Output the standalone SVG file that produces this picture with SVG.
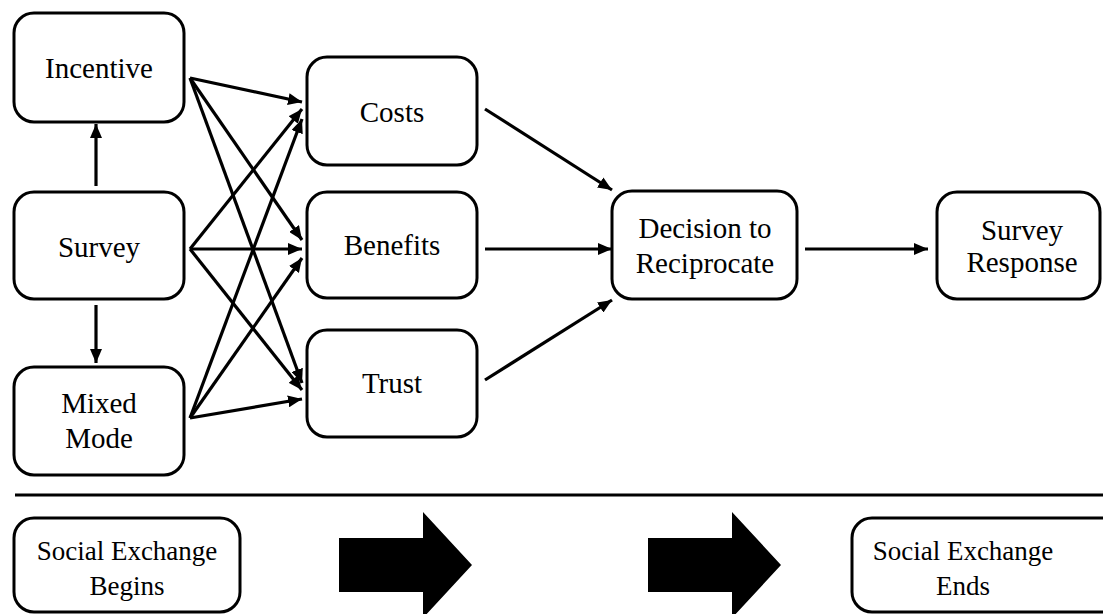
<svg xmlns="http://www.w3.org/2000/svg" width="1103" height="614" viewBox="0 0 1103 614">
<style>
.box{fill:#fff;stroke:#000;stroke-width:3}
.t{font-family:'Liberation Serif','Times New Roman',serif;font-size:29px;fill:#000;text-anchor:middle}
.s{font-size:27px}
.c{stroke:#000;stroke-width:3.2;fill:none;marker-end:url(#ah)}
.big{fill:#000}
</style>
<defs>
<marker id="ah" markerUnits="userSpaceOnUse" markerWidth="14" markerHeight="12" refX="14" refY="6" orient="auto" viewBox="0 0 14 12">
<path d="M0,0 L14,6 L0,12 z" fill="#000"/>
</marker>
</defs>
<rect width="1103" height="614" fill="#fff"/>
<g id="connectors">
<line class="c" x1="96" y1="186" x2="96" y2="124"/>
<line class="c" x1="96" y1="305" x2="96" y2="363"/>
<line class="c" x1="190" y1="78" x2="302" y2="102"/>
<line class="c" x1="190" y1="78" x2="302" y2="240"/>
<line class="c" x1="190" y1="78" x2="302" y2="383"/>
<line class="c" x1="190" y1="249" x2="302" y2="109"/>
<line class="c" x1="190" y1="249" x2="302" y2="249"/>
<line class="c" x1="190" y1="249" x2="302" y2="390"/>
<line class="c" x1="190" y1="418" x2="302" y2="119"/>
<line class="c" x1="190" y1="418" x2="302" y2="258"/>
<line class="c" x1="190" y1="418" x2="302" y2="399"/>
<line class="c" x1="485" y1="109" x2="612" y2="190"/>
<line class="c" x1="485" y1="249" x2="612" y2="249"/>
<line class="c" x1="485" y1="380" x2="612" y2="300"/>
<line class="c" x1="805" y1="249" x2="928" y2="249"/>
</g>
<g id="incentive"><rect class="box" x="14" y="13" width="170" height="109" rx="20"/><text class="t" x="99" y="78">Incentive</text></g>
<g id="survey"><rect class="box" x="14" y="192" width="170" height="107" rx="20"/><text class="t" x="99" y="257">Survey</text></g>
<g id="mixed-mode"><rect class="box" x="14" y="367" width="170" height="108" rx="20"/><text class="t" x="99" y="413">Mixed</text><text class="t" x="99" y="448">Mode</text></g>
<g id="costs"><rect class="box" x="307" y="57" width="170" height="108" rx="20"/><text class="t" x="392" y="122">Costs</text></g>
<g id="benefits"><rect class="box" x="307" y="192" width="170" height="106" rx="20"/><text class="t" x="392" y="255">Benefits</text></g>
<g id="trust"><rect class="box" x="307" y="330" width="170" height="107" rx="20"/><text class="t" x="392" y="393">Trust</text></g>
<g id="decision"><rect class="box" x="612" y="191" width="185" height="108" rx="20"/><text class="t" x="705" y="238">Decision to</text><text class="t" x="705" y="273">Reciprocate</text></g>
<g id="survey-response"><rect class="box" x="937" y="192" width="163" height="107" rx="20"/><text class="t" x="1022" y="240">Survey</text><text class="t" x="1022" y="272">Response</text></g>
<line x1="15" y1="495" x2="1103" y2="495" stroke="#000" stroke-width="3"/>
<g id="exchange-begins"><rect class="box" x="14" y="518" width="226" height="94" rx="20"/><text class="t s" x="127" y="560">Social Exchange</text><text class="t s" x="127" y="595">Begins</text></g>
<g id="big-arrow-1"><polygon class="big" points="339,538 423,538 423,512 472,565 423,618 423,592 339,592"/></g>
<g id="big-arrow-2"><polygon class="big" points="648,538 732,538 732,512 781,565 732,618 732,592 648,592"/></g>
<g id="exchange-ends"><rect class="box" x="852" y="518" width="270" height="94" rx="20"/><text class="t s" x="963" y="560">Social Exchange</text><text class="t s" x="963" y="595">Ends</text></g>
</svg>
